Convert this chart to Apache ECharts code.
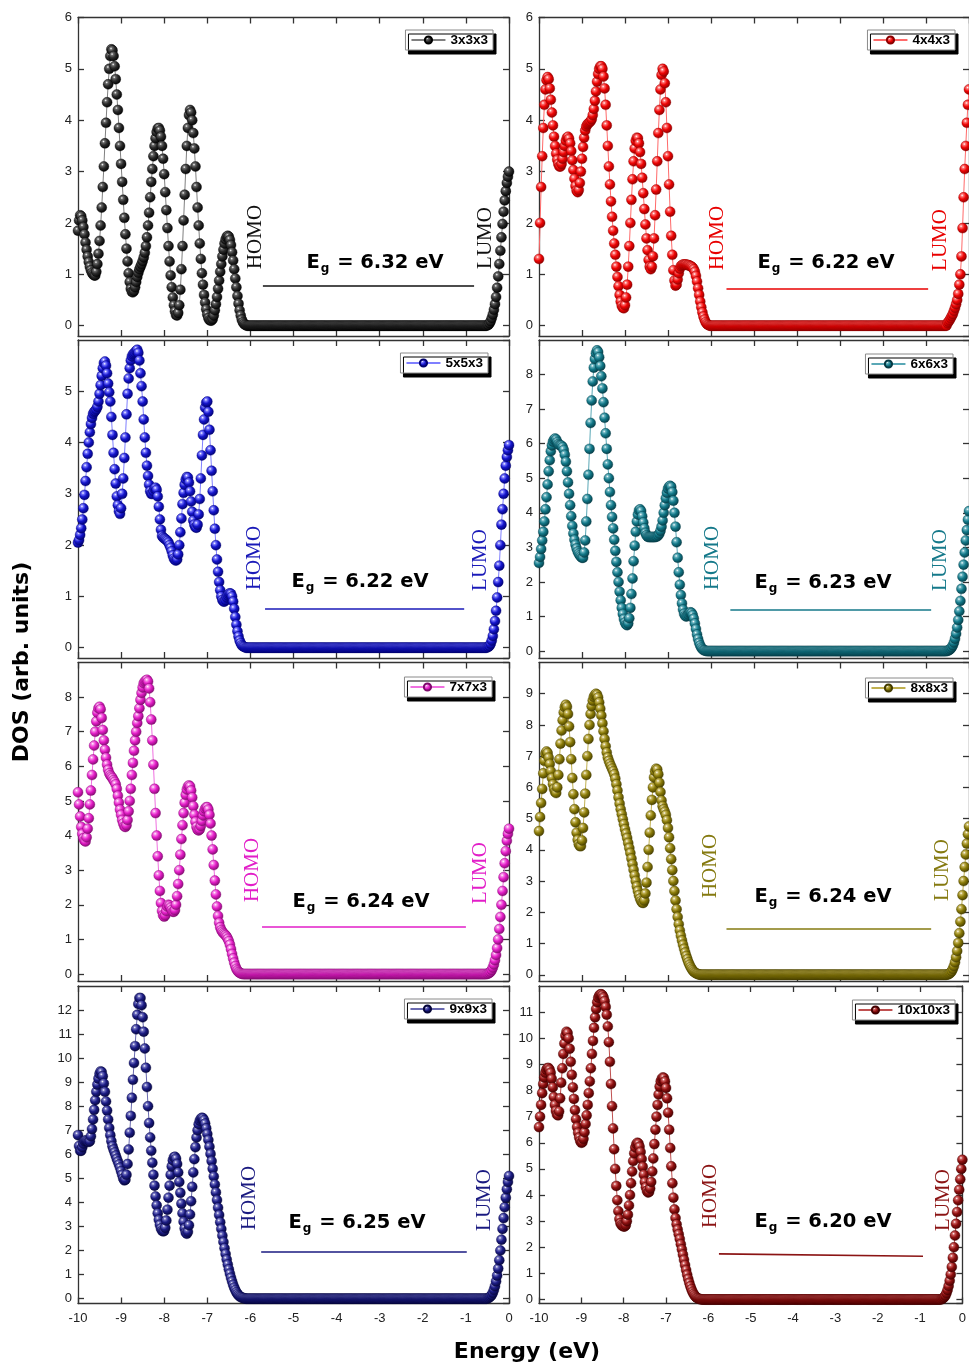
<!DOCTYPE html>
<html><head><meta charset="utf-8">
<script src="https://cdn.jsdelivr.net/npm/echarts@6/dist/echarts.min.js"></script>
<style>html,body{margin:0;padding:0;background:#fff}#c{width:969px;height:1364px}</style>
</head><body><div id="c"></div>
<script>
// ---------------- DATA ----------------
const STEP = 0.025;                 // energy sampling (eV)
const NAMES = ['3x3x3','4x4x3','5x5x3','6x6x3','7x7x3','8x8x3','9x9x3','10x10x3'];
const GAP_EV = ['6.32','6.22','6.22','6.23','6.24','6.24','6.25','6.20'];

// valence-band DOS, E = -10 ... -6 eV
const vb3 = [
1.85,2.05,2.15,2.13,2.05,1.92,1.78,1.62,
1.48,1.35,1.24,1.15,1.08,1.03,1.0,0.98,
0.98,1.05,1.2,1.4,1.65,1.95,2.3,2.7,
3.1,3.55,3.95,4.35,4.7,5.0,5.25,5.38,
5.36,5.25,5.05,4.8,4.5,4.2,3.85,3.5,
3.15,2.8,2.45,2.1,1.78,1.5,1.25,1.02,
0.85,0.72,0.66,0.65,0.68,0.75,0.85,0.95,
1.03,1.1,1.15,1.2,1.26,1.33,1.42,1.55,
1.72,1.95,2.2,2.5,2.8,3.05,3.3,3.5,
3.65,3.77,3.84,3.85,3.8,3.68,3.5,3.25,
2.95,2.6,2.25,1.9,1.55,1.25,0.98,0.75,
0.55,0.4,0.28,0.21,0.2,0.25,0.4,0.7,
1.1,1.55,2.05,2.55,3.05,3.5,3.85,4.1,
4.2,4.15,4.0,3.75,3.45,3.1,2.7,2.3,
1.95,1.6,1.3,1.02,0.8,0.6,0.45,0.32,
0.22,0.15,0.11,0.1,0.1,0.13,0.2,0.3,
0.42,0.56,0.72,0.88,1.05,1.2,1.35,1.48,
1.6,1.68,1.73,1.75,1.73,1.67,1.57,1.43,
1.27,1.1,0.92,0.75,0.58,0.43,0.3,0.2,
0.12,0.07,0.04,0.02,0.01,0,0,0,
0];
const vb4 = [
1.3,2.0,2.7,3.3,3.85,4.3,4.6,4.78,
4.84,4.8,4.62,4.4,4.15,3.9,3.68,3.5,
3.35,3.23,3.15,3.1,3.1,3.15,3.25,3.38,
3.5,3.6,3.66,3.68,3.64,3.55,3.4,3.22,
3.03,2.86,2.72,2.63,2.6,2.64,2.78,3.0,
3.25,3.48,3.66,3.8,3.88,3.92,3.94,3.96,
3.98,4.02,4.1,4.22,4.38,4.56,4.75,4.9,
5.0,5.05,5.05,5.0,4.85,4.62,4.3,3.9,
3.5,3.1,2.75,2.42,2.12,1.85,1.6,1.38,
1.15,0.95,0.77,0.6,0.47,0.39,0.35,0.34,
0.4,0.55,0.8,1.15,1.55,2.0,2.45,2.85,
3.2,3.45,3.6,3.66,3.65,3.55,3.38,3.15,
2.88,2.58,2.27,1.97,1.7,1.47,1.28,1.15,
1.1,1.15,1.35,1.7,2.15,2.65,3.2,3.75,
4.2,4.6,4.88,5.0,4.95,4.72,4.35,3.85,
3.3,2.75,2.22,1.75,1.38,1.08,0.88,0.78,
0.8,0.9,1.02,1.11,1.16,1.18,1.19,1.19,
1.19,1.19,1.18,1.18,1.17,1.16,1.15,1.13,
1.1,1.05,0.97,0.86,0.73,0.6,0.47,0.36,
0.26,0.18,0.12,0.07,0.04,0.02,0.01,0,
0];
const vb5 = [
2.05,2.1,2.2,2.33,2.5,2.72,2.98,3.25,
3.52,3.78,4.0,4.2,4.36,4.48,4.56,4.6,
4.62,4.65,4.7,4.8,4.95,5.12,5.3,5.45,
5.55,5.58,5.5,5.35,5.15,4.98,4.8,4.5,
4.15,3.8,3.48,3.2,2.95,2.78,2.66,2.61,
2.72,3.0,3.3,3.7,4.1,4.55,4.95,5.25,
5.45,5.6,5.68,5.72,5.74,5.76,5.79,5.81,
5.75,5.6,5.35,5.1,4.8,4.45,4.1,3.8,
3.55,3.35,3.18,3.05,3.0,3.0,3.05,3.1,
3.12,3.08,2.95,2.75,2.5,2.3,2.18,2.15,
2.13,2.12,2.1,2.08,2.05,2.0,1.95,1.88,
1.8,1.74,1.71,1.7,1.72,1.82,2.0,2.25,
2.52,2.8,3.02,3.18,3.28,3.33,3.32,3.22,
3.05,2.85,2.65,2.48,2.4,2.35,2.34,2.4,
2.6,2.9,3.3,3.75,4.15,4.45,4.68,4.78,
4.8,4.6,4.25,3.85,3.45,3.05,2.68,2.32,
2.0,1.72,1.48,1.28,1.12,1.0,0.93,0.9,
0.9,0.93,0.98,1.02,1.05,1.06,1.05,1.0,
0.9,0.76,0.6,0.45,0.32,0.22,0.14,0.09,
0.05,0.03,0.02,0.01,0,0,0,0,
0];
const vb6 = [
2.55,2.72,2.95,3.2,3.45,3.75,4.1,4.45,
4.82,5.2,5.52,5.78,5.95,6.06,6.12,6.15,
6.12,6.05,5.99,5.96,5.95,5.94,5.9,5.82,
5.68,5.48,5.2,4.88,4.55,4.22,3.9,3.62,
3.4,3.22,3.08,2.97,2.88,2.82,2.77,2.73,
2.7,2.7,2.85,3.2,3.75,4.4,5.1,5.85,
6.6,7.25,7.8,8.2,8.45,8.62,8.7,8.65,
8.5,8.25,7.95,7.6,7.2,6.75,6.3,5.85,
5.4,5.0,4.6,4.22,3.88,3.55,3.22,2.9,
2.58,2.28,2.0,1.72,1.47,1.25,1.07,0.93,
0.83,0.77,0.75,0.8,0.95,1.25,1.65,2.1,
2.6,3.05,3.45,3.75,3.95,4.07,4.1,4.05,
3.9,3.72,3.55,3.42,3.35,3.31,3.3,3.3,
3.3,3.3,3.3,3.3,3.3,3.31,3.32,3.35,
3.4,3.48,3.6,3.78,4.0,4.22,4.42,4.58,
4.7,4.76,4.78,4.75,4.6,4.35,4.0,3.6,
3.15,2.7,2.28,1.92,1.62,1.38,1.2,1.08,
1.02,1.0,1.02,1.06,1.1,1.12,1.1,1.04,
0.94,0.8,0.64,0.48,0.35,0.24,0.16,0.1,
0.06,0.03,0.02,0.01,0,0,0,0,
0];
const vb7 = [
5.25,4.9,4.55,4.25,4.05,3.92,3.85,3.83,
3.95,4.2,4.5,4.9,5.3,5.75,6.2,6.6,
7.0,7.3,7.55,7.68,7.72,7.65,7.4,7.05,
6.75,6.48,6.25,6.05,5.9,5.8,5.74,5.7,
5.66,5.6,5.55,5.48,5.35,5.15,4.95,4.75,
4.6,4.45,4.35,4.27,4.25,4.3,4.45,4.7,
5.0,5.35,5.75,6.1,6.45,6.75,7.0,7.25,
7.45,7.68,7.92,8.12,8.28,8.4,8.45,8.48,
8.5,8.45,8.25,7.85,7.35,6.75,6.05,5.35,
4.65,4.0,3.4,2.85,2.4,2.05,1.82,1.7,
1.66,1.7,1.82,1.95,2.0,1.98,1.92,1.85,
1.8,1.8,1.85,2.0,2.25,2.6,3.0,3.45,
3.9,4.3,4.65,4.95,5.18,5.33,5.42,5.45,
5.42,5.3,5.1,4.85,4.6,4.4,4.25,4.17,
4.15,4.18,4.28,4.42,4.58,4.7,4.78,4.82,
4.82,4.75,4.6,4.35,4.0,3.6,3.15,2.7,
2.3,1.95,1.68,1.48,1.35,1.27,1.22,1.18,
1.15,1.12,1.08,1.02,0.95,0.85,0.72,0.58,
0.45,0.33,0.23,0.15,0.1,0.06,0.04,0.02,
0.01,0,0,0,0,0,0,0,
0];
const vb8 = [
4.6,5.05,5.5,5.95,6.45,6.85,7.08,7.15,
7.1,6.95,6.75,6.52,6.3,6.1,5.95,5.85,
5.82,6.0,6.4,6.9,7.4,7.82,8.15,8.4,
8.57,8.65,8.58,8.35,7.95,7.45,6.9,6.3,
5.78,5.3,4.88,4.55,4.32,4.18,4.12,4.12,
4.3,4.7,5.2,5.8,6.4,7.0,7.55,8.0,
8.35,8.6,8.78,8.9,8.96,9.0,8.97,8.88,
8.72,8.52,8.3,8.05,7.8,7.55,7.32,7.12,
6.96,6.85,6.76,6.68,6.6,6.52,6.42,6.28,
6.1,5.9,5.68,5.48,5.3,5.14,4.98,4.82,
4.66,4.52,4.38,4.22,4.06,3.9,3.72,3.54,
3.36,3.18,3.0,2.83,2.68,2.55,2.44,2.36,
2.31,2.3,2.38,2.6,2.95,3.45,4.0,4.55,
5.1,5.6,6.0,6.32,6.52,6.6,6.57,6.42,
6.15,5.85,5.58,5.4,5.3,5.22,5.12,4.95,
4.7,4.4,4.05,3.7,3.35,3.0,2.68,2.38,
2.1,1.85,1.62,1.42,1.25,1.1,0.96,0.83,
0.71,0.6,0.5,0.4,0.32,0.25,0.19,0.14,
0.1,0.07,0.05,0.03,0.02,0.01,0,0,
0,0,0,0,0,0,0,0,
0];
const vb9 = [
6.8,6.35,6.15,6.15,6.3,6.45,6.55,6.58,
6.57,6.54,6.52,6.55,6.75,7.05,7.45,7.85,
8.25,8.6,8.9,9.15,9.35,9.45,9.42,9.25,
8.95,8.6,8.2,7.82,7.45,7.1,6.8,6.55,
6.34,6.2,6.08,5.95,5.82,5.7,5.58,5.45,
5.3,5.15,5.0,4.92,4.95,5.15,5.6,6.2,
6.9,7.6,8.35,9.1,9.8,10.5,11.2,11.8,
12.25,12.5,12.5,12.2,11.7,11.1,10.4,9.6,
8.8,8.0,7.3,6.7,6.15,5.65,5.15,4.7,
4.25,3.88,3.55,3.28,3.07,2.92,2.83,2.8,
2.82,2.95,3.25,3.7,4.2,4.7,5.15,5.5,
5.75,5.88,5.9,5.82,5.6,5.25,4.85,4.4,
3.95,3.55,3.2,2.92,2.75,2.7,2.78,3.05,
3.5,4.05,4.65,5.25,5.8,6.3,6.7,7.0,
7.25,7.4,7.48,7.52,7.5,7.42,7.28,7.08,
6.85,6.6,6.32,6.02,5.72,5.4,5.08,4.75,
4.42,4.1,3.78,3.48,3.18,2.9,2.62,2.36,
2.1,1.86,1.63,1.42,1.22,1.04,0.87,0.72,
0.58,0.46,0.36,0.27,0.2,0.14,0.1,0.07,
0.05,0.03,0.02,0.01,0,0,0,0,
0];
const vb10 = [
6.6,7.0,7.45,7.9,8.25,8.5,8.68,8.8,
8.86,8.86,8.8,8.68,8.45,8.12,7.75,7.45,
7.22,7.08,7.05,7.2,7.7,8.3,8.85,9.4,
9.8,10.1,10.25,10.2,10.0,9.6,9.1,8.6,
8.12,7.68,7.25,6.9,6.6,6.38,6.2,6.07,
6.0,6.02,6.15,6.4,6.72,7.05,7.45,7.9,
8.35,8.85,9.4,9.9,10.4,10.8,11.12,11.38,
11.55,11.64,11.68,11.68,11.64,11.56,11.42,11.2,
10.9,10.45,9.85,9.1,8.25,7.4,6.55,5.75,
5.0,4.35,3.8,3.38,3.08,2.92,2.85,2.82,
2.8,2.8,2.85,3.0,3.25,3.6,4.0,4.45,
4.9,5.3,5.6,5.82,5.95,6.0,5.97,5.85,
5.65,5.38,5.08,4.78,4.5,4.3,4.16,4.1,
4.12,4.25,4.5,4.9,5.4,5.95,6.5,7.0,
7.45,7.85,8.15,8.35,8.45,8.5,8.48,8.35,
8.1,7.7,7.15,6.5,5.8,5.1,4.45,3.9,
3.45,3.12,2.88,2.68,2.5,2.32,2.12,1.92,
1.72,1.52,1.32,1.13,0.95,0.79,0.64,0.51,
0.4,0.3,0.22,0.16,0.11,0.07,0.05,0.03,
0.02,0.01,0,0,0,0,0,0,
0];

// flat DOS inside the gap, E = -5.975 ... -0.525 eV
const gapDOS = [
0,0,0,0,0,0,0,0,0,0,0,0,0,0,0,0,0,0,0,0,
0,0,0,0,0,0,0,0,0,0,0,0,0,0,0,0,0,0,0,0,
0,0,0,0,0,0,0,0,0,0,0,0,0,0,0,0,0,0,0,0,
0,0,0,0,0,0,0,0,0,0,0,0,0,0,0,0,0,0,0,0,
0,0,0,0,0,0,0,0,0,0,0,0,0,0,0,0,0,0,0,0,
0,0,0,0,0,0,0,0,0,0,0,0,0,0,0,0,0,0,0,0,
0,0,0,0,0,0,0,0,0,0,0,0,0,0,0,0,0,0,0,0,
0,0,0,0,0,0,0,0,0,0,0,0,0,0,0,0,0,0,0,0,
0,0,0,0,0,0,0,0,0,0,0,0,0,0,0,0,0,0,0,0,
0,0,0,0,0,0,0,0,0,0,0,0,0,0,0,0,0,0,0,0,
0,0,0,0,0,0,0,0,0,0,0,0,0,0,0,0,0,0,0];

// conduction-band DOS, E = -0.5 ... 0 eV
const cb3  = [0.01,0.02,0.05,0.09,0.15,0.22,0.31,0.42,0.56,0.74,0.96,1.2,1.46,1.72,1.98,2.22,2.44,2.62,2.78,2.9,3.0];
const cb4  = [0.05,0.08,0.11,0.15,0.19,0.23,0.29,0.35,0.42,0.5,0.62,0.8,1.0,1.35,1.9,2.5,3.05,3.5,3.95,4.3,4.6];
const cb5  = [0.01,0.02,0.04,0.08,0.14,0.23,0.36,0.52,0.72,0.98,1.28,1.6,2.0,2.4,2.7,3.0,3.3,3.55,3.72,3.85,3.95];
const cb6  = [0.01,0.02,0.04,0.07,0.11,0.17,0.25,0.36,0.5,0.68,0.9,1.15,1.45,1.8,2.15,2.5,2.85,3.2,3.5,3.8,4.05];
const cb7  = [0.01,0.02,0.04,0.07,0.12,0.19,0.28,0.4,0.55,0.75,1.0,1.3,1.65,2.0,2.4,2.8,3.2,3.55,3.85,4.05,4.2];
const cb8  = [0.01,0.02,0.04,0.07,0.12,0.19,0.28,0.4,0.56,0.76,1.02,1.33,1.7,2.1,2.55,3.0,3.45,3.85,4.2,4.5,4.75];
const cb9  = [0.01,0.03,0.06,0.1,0.16,0.25,0.37,0.52,0.72,0.96,1.25,1.6,2.0,2.45,2.9,3.35,3.8,4.2,4.55,4.85,5.1];
const cb10 = [0.01,0.03,0.06,0.1,0.16,0.25,0.37,0.52,0.72,0.96,1.25,1.6,2.0,2.45,2.9,3.35,3.8,4.2,4.6,5.0,5.35];

const VB = [vb3,vb4,vb5,vb6,vb7,vb8,vb9,vb10];
const CB = [cb3,cb4,cb5,cb6,cb7,cb8,cb9,cb10];

// ---------------- LAYOUT / STYLE ----------------
const COL_X = [78, 539];
const PLOT_W = 431;
const ROWS = [[17.5,318.5],[340,318],[662.5,318.5],[986,317.5]];
// [ymin, ymax, show top label]
const Y_RANGE = [[-0.2,6,true],[-0.2,6,true],[-0.2,6,false],[-0.2,9,false],
                 [-0.2,9,false],[-0.2,10,false],[-0.2,13,false],[-0.15,12,false]];
const STYLE = [
  {base:'#2a2a2a', dark:'#000000', mid:'#6a6a6a', line:'#808080', text:'#111111'},
  {base:'#ee0505', dark:'#8a0000', mid:'#ff7070', line:'#ff6a6a', text:'#e80000'},
  {base:'#1616cc', dark:'#00006e', mid:'#7a7aff', line:'#7f7fff', text:'#1a1ab8'},
  {base:'#127888', dark:'#053a44', mid:'#6ab4c0', line:'#5aa8b6', text:'#15798a'},
  {base:'#e41ec8', dark:'#7e0a6c', mid:'#f88ae8', line:'#f070e0', text:'#e21ec8'},
  {base:'#8a7b08', dark:'#443c00', mid:'#c8b860', line:'#c0b050', text:'#857a10'},
  {base:'#1c1c84', dark:'#06063a', mid:'#7070c0', line:'#6a6ab0', text:'#1a1a80'},
  {base:'#8e1010', dark:'#420000', mid:'#d06060', line:'#c05050', text:'#8b1414'}
];
// gap line: [E1, E2, v1, v2] in data units
const GAP_LINE = [[-5.71,-0.81,0.78,0.78],[-5.64,-0.95,0.72,0.72],[-5.66,-1.04,0.76,0.76],[-5.55,-0.88,1.21,1.21],
                  [-5.73,-1.0,1.37,1.37],[-5.64,-0.88,1.47,1.47],[-5.75,-0.98,1.94,1.94],[-5.75,-0.93,1.75,1.66]];
// pixel centres of annotation texts
const HOMO_POS = [[255,237],[717,238],[254,558],[712,558],[252,870],[710,866],[249,1198],[710,1196]];
const LUMO_POS = [[485,238],[940,240],[480,560],[940,560],[480,873],[942,870],[484,1200],[943,1200]];
const EG_POS   = [[375,263],[826,263],[360,582],[823,583],[361,902],[823,897],[357,1223],[823,1222]];
const LEG_RIGHT_EDGE = [493,955,488,953,492,953,492,955];
const LEG_TOP = [30,30,353,354,677,678,999,1000];

function buildSeries(vb, cb) {
  const pts = [];
  vb.forEach((v,i) => pts.push([+(-10 + i*STEP).toFixed(3), v]));
  gapDOS.forEach((v,i) => pts.push([+(-5.975 + i*STEP).toFixed(3), v]));
  cb.forEach((v,i) => pts.push([+(-(cb.length-1-i)*STEP).toFixed(3), v]));
  return pts;
}
function ball(st) {
  return {type:'radial', x:0.36, y:0.32, r:0.72, colorStops:[
    {offset:0, color:'#ffffff'}, {offset:0.18, color:st.mid}, {offset:0.5, color:st.base}, {offset:1, color:st.dark}]};
}

const chart = echarts.init(document.getElementById('c'), null, {renderer:'canvas', width:969, height:1364});
const axisLine = {color:'#333', width:1.3};
const grids=[], xAxes=[], yAxes=[], series=[], legends=[], graphics=[];
for (let i=0;i<8;i++){
  const r = Math.floor(i/2), c = i%2, st = STYLE[i], yr = Y_RANGE[i];
  grids.push({left:COL_X[c], top:ROWS[r][0], width:PLOT_W, height:ROWS[r][1]});
  const xb = {type:'value', gridIndex:i, min:-10, max:0, interval:1, splitLine:{show:false},
    axisLine:{show:true, onZero:false, lineStyle:axisLine},
    axisTick:{show:true, inside:true, length:6, lineStyle:axisLine}};
  xAxes.push(Object.assign({}, xb, {position:'bottom',
    axisLabel:{show:r===3, fontSize:13, color:'#222', fontFamily:'Liberation Sans', margin:8}}));
  xAxes.push(Object.assign({}, xb, {position:'top', axisLabel:{show:false}}));
  const yb = {type:'value', gridIndex:i, min:yr[0], max:yr[1], minInterval:1, maxInterval:1, splitLine:{show:false},
    axisLine:{show:true, onZero:false, lineStyle:axisLine},
    axisTick:{show:true, inside:true, length:6, lineStyle:axisLine}};
  yAxes.push(Object.assign({}, yb, {position:'left',
    axisLabel:{show:true, fontSize:13, color:'#222', fontFamily:'Liberation Sans', margin:6, showMinLabel:false, showMaxLabel:yr[2]}}));
  yAxes.push(Object.assign({}, yb, {position:'right', axisLabel:{show:false}}));
  const g = GAP_LINE[i];
  series.push({type:'line', name:NAMES[i], xAxisIndex:2*i, yAxisIndex:2*i, data:buildSeries(VB[i], CB[i]),
    symbol:'circle', symbolSize:10, showAllSymbol:true, clip:true, animation:false,
    lineStyle:{color:st.line, width:1}, itemStyle:{color:ball(st), borderColor:st.dark, borderWidth:0.4},
    emphasis:{disabled:true},
    markLine:{silent:true, animation:false, symbol:['none','none'], label:{show:false},
      lineStyle:{color:st.text, width:1.6, type:'solid'},
      data:[[{coord:[g[0],g[2]]},{coord:[g[1],g[3]]}]]}
  });
  legends.push({data:[NAMES[i]], right:969-LEG_RIGHT_EDGE[i], top:LEG_TOP[i], orient:'horizontal',
    backgroundColor:'#fff', borderColor:'#8a8a8a', borderWidth:1, borderRadius:0, padding:[3,5,3,5],
    itemWidth:34, itemHeight:9, itemGap:0, selectedMode:false,
    shadowColor:'#000', shadowBlur:0, shadowOffsetX:3, shadowOffsetY:4,
    textStyle:{fontFamily:'Liberation Sans', fontWeight:'bold', fontSize:13.5, color:'#000'}});
  graphics.push({type:'text', x:HOMO_POS[i][0], y:HOMO_POS[i][1], rotation:Math.PI/2, silent:true,
    style:{text:'HOMO', align:'center', verticalAlign:'middle', fill:st.text, fontFamily:'Liberation Serif', fontSize:21}});
  graphics.push({type:'text', x:LUMO_POS[i][0], y:LUMO_POS[i][1], rotation:Math.PI/2, silent:true,
    style:{text:'LUMO', align:'center', verticalAlign:'middle', fill:st.text, fontFamily:'Liberation Serif', fontSize:21}});
  graphics.push({type:'text', x:EG_POS[i][0], y:EG_POS[i][1], silent:true,
    style:{text:'{b|E}{s|g}{b| = ' + GAP_EV[i] + ' eV}', align:'center', verticalAlign:'middle',
      rich:{b:{fontFamily:'DejaVu Sans', fontWeight:'bold', fontSize:19.5, fill:'#000', lineHeight:24, verticalAlign:'middle'},
            s:{fontFamily:'DejaVu Sans', fontWeight:'bold', fontSize:12, fill:'#000', lineHeight:12, padding:[18,1,0,1], verticalAlign:'bottom'}}}});
}
graphics.push({type:'text', x:527, y:1352, silent:true,
  style:{text:'Energy (eV)', align:'center', verticalAlign:'middle', fill:'#000', fontFamily:'DejaVu Sans', fontWeight:'bold', fontSize:22}});
graphics.push({type:'text', x:22, y:662, rotation:Math.PI/2, silent:true,
  style:{text:'DOS (arb. units)', align:'center', verticalAlign:'middle', fill:'#000', fontFamily:'DejaVu Sans', fontWeight:'bold', fontSize:22}});

chart.setOption({animation:false, backgroundColor:'#fff', grid:grids, xAxis:xAxes, yAxis:yAxes,
  series:series, legend:legends, graphic:graphics});
</script></body></html>
